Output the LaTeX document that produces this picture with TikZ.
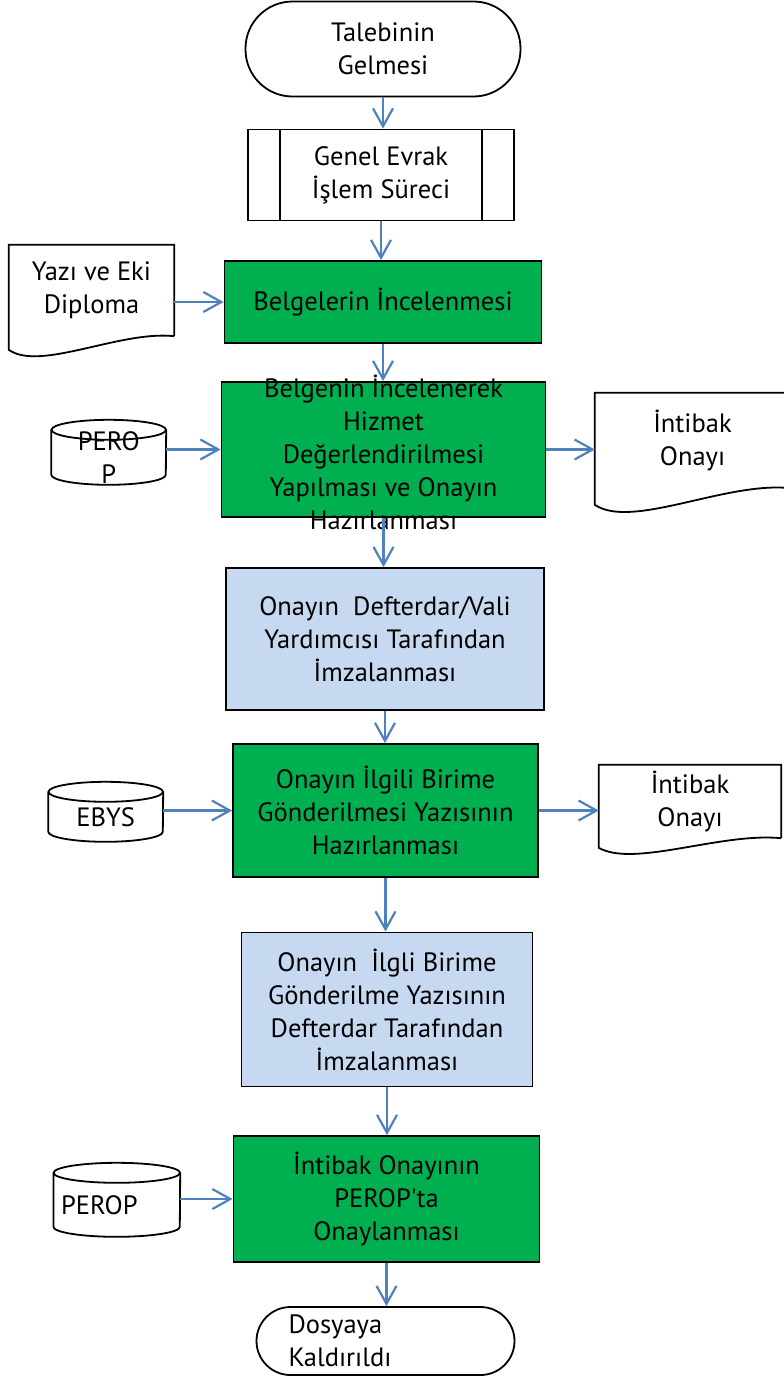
\documentclass[tikz,border=0pt]{standalone}
\usepackage{fontspec}
\setmainfont{PT Sans}
\usepackage{tikz}
\usetikzlibrary{arrows.meta}
\definecolor{boxgreen}{RGB}{0,176,80}
\definecolor{boxblue}{RGB}{198,217,241}
\definecolor{flowblue}{RGB}{79,129,189}

\begin{document}
\begin{tikzpicture}[x=1pt,y=-1pt]
\tikzstyle{box} = [draw,line width=1.8pt,inner sep=0pt,align=center,font=\fontsize{26.5}{33}\selectfont]
\tikzstyle{greenbox} = [box,fill=boxgreen]
\tikzstyle{bluebox} = [box,fill=boxblue]
\tikzstyle{plain} = [inner sep=0pt,align=center,font=\fontsize{26.5}{33}\selectfont]
\tikzstyle{outline} = [line width=1.8pt]
\tikzstyle{flow} = [draw=flowblue,line width=2.2pt,-{Straight Barb[length=18pt,width=20pt]}]

\useasboundingbox (0,0) rectangle (784,1379);

% main column
\node[box,rounded corners=47pt,minimum width=275pt,minimum height=95pt] (start) at (383,49) {Talebinin\\Gelmesi};
\node[box,minimum width=266pt,minimum height=91pt] (proc) at (381,175) {Genel Evrak\\İşlem Süreci};
\draw[outline] ([xshift=33pt]proc.north west) -- ([xshift=33pt]proc.south west);
\draw[outline] ([xshift=-33pt]proc.north east) -- ([xshift=-33pt]proc.south east);
\node[greenbox,minimum width=317pt,minimum height=82pt] (b1) at (383,302) {Belgelerin İncelenmesi};
\node[greenbox,minimum width=324pt,minimum height=135pt] (b2) at (383.5,449.5) {};
\node[plain] (b2text) at (383.5,452) {Belgenin İncelenerek\\Hizmet\\Değerlendirilmesi\\Yapılması ve Onayın\\Hazırlanması};
\node[bluebox,minimum width=318pt,minimum height=142pt] (b3) at (385,639) {Onayın~~Defterdar/Vali\\Yardımcısı Tarafından\\İmzalanması};
\node[greenbox,minimum width=305pt,minimum height=133pt] (b4) at (385.5,810.5) {Onayın İlgili Birime\\Gönderilmesi Yazısının\\Hazırlanması};
\node[bluebox,minimum width=291pt,minimum height=154pt] (b5) at (387,1009.5) {Onayın~~İlgli Birime\\Gönderilme Yazısının\\Defterdar Tarafından\\İmzalanması};
\node[greenbox,minimum width=306pt,minimum height=126pt] (b6) at (386.5,1199) {İntibak Onayının\\PEROP\textquotesingle ta\\Onaylanması};
\node[box,rounded corners=34pt,align=left,inner xsep=32pt,text width=194pt,minimum width=258pt,minimum height=68pt] (end) at (385.5,1341) {Dosyaya\\Kaldırıldı};

% documents
\node[plain,minimum width=165pt,minimum height=91pt] (d1) at (91.5,290.5) {Yazı ve Eki\\Diploma};
\draw[outline] (d1.south east) -- (d1.north east) -- (d1.north west) -- ++(0,105) .. controls +(31,22) and +(-54,-6) .. (d1.south east);
\node[plain,minimum width=195pt,minimum height=95pt] (d2) at (692.5,440.5) {İntibak\\Onayı};
\draw[outline] (d2.south east) -- (d2.north east) -- (d2.north west) -- ++(0,112) .. controls +(37,25) and +(-64,-7) .. (d2.south east);
\node[plain,minimum width=182pt,minimum height=73pt] (d3) at (690,801.5) {İntibak\\Onayı};
\draw[outline] (d3.south east) -- (d3.north east) -- (d3.north west) -- ++(0,83) .. controls +(35,20) and +(-60,-6) .. (d3.south east);

% databases
\node[plain,minimum width=114.5pt,minimum height=55pt] (c1) at (108.75,457.5) {PERO\\P};
\draw[outline] (c1.north) ellipse [x radius=57.25pt,y radius=10pt];
\draw[outline] (c1.north west) -- ++(0,45) arc[start angle=180,end angle=360,x radius=57.25pt,y radius=10pt] -- (c1.north east);
\node[plain,minimum width=114.5pt,minimum height=50pt] (c2) at (105.75,817) {EBYS};
\draw[outline] (c2.north) ellipse [x radius=57.25pt,y radius=10pt];
\draw[outline] (c2.north west) -- ++(0,40) arc[start angle=180,end angle=360,x radius=57.25pt,y radius=10pt] -- (c2.north east);
\node[plain,align=left,inner xsep=7.5pt,text width=111.4pt,minimum height=64pt] (c3) at (116.8,1205) {PEROP};
\draw[outline] (c3.north) ellipse [x radius=63.2pt,y radius=10pt];
\draw[outline] (c3.north west) -- ++(0,54) arc[start angle=180,end angle=360,x radius=63.2pt,y radius=10pt] -- (c3.north east);

% connectors
\draw[flow] (start.south) -- (start.south |- proc.north);
\draw[flow] (proc.south) -- (proc.south |- b1.north);
\draw[flow] (b1.south) -- (b1.south |- b2.north);
\draw[flow] (b2.south) -- (b2.south |- b3.north);
\draw[flow] (b3.south) -- (b3.south |- b4.north);
\draw[flow] (b4.south) -- (b4.south |- b5.north);
\draw[flow] (b5.south) -- (b5.south |- b6.north);
\draw[flow] (b6.south) -- (b6.south |- end.north);
\draw[flow] (d1.east |- b1.west) -- (b1.west);
\draw[flow] (c1.east |- b2.west) -- (b2.west);
\draw[flow] (b2.east) -- (b2.east -| d2.west);
\draw[flow] (c2.east |- b4.west) -- (b4.west);
\draw[flow] (b4.east) -- (b4.east -| d3.west);
\draw[flow] (c3.east |- b6.west) -- (b6.west);
\end{tikzpicture}
\end{document}
